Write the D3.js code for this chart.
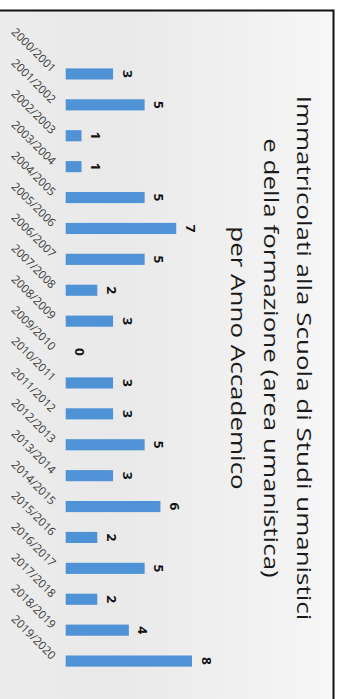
<!DOCTYPE html>
<html>
<head>
<meta charset="utf-8">
<script src="https://cdn.jsdelivr.net/npm/d3@7"></script>
<style>
  html, body { margin: 0; padding: 0; background: #ffffff; }
  svg { display: block; }
</style>
</head>
<body>
<div id="chart"></div>
<script>
const categories = ["2000/2001","2001/2002","2002/2003","2003/2004","2004/2005","2005/2006","2006/2007","2007/2008","2008/2009","2009/2010","2010/2011","2011/2012","2012/2013","2013/2014","2014/2015","2015/2016","2016/2017","2017/2018","2018/2019","2019/2020"];
const values = [3,5,1,1,5,7,5,2,3,0,3,3,5,3,6,2,5,2,4,8];
const titleLines = ["Immatricolati alla Scuola di Studi umanistici","e della formazione (area umanistica)","per Anno Accademico"];

const W = 342, H = 699;
const svg = d3.select("#chart").append("svg").attr("width", W).attr("height", H);

const defs = svg.append("defs");
const grad = defs.append("linearGradient").attr("id","bg").attr("x1","0").attr("y1","0").attr("x2","1").attr("y2","0");
grad.append("stop").attr("offset","0%").attr("stop-color","#ececec");
grad.append("stop").attr("offset","35%").attr("stop-color","#e9e9e9");
grad.append("stop").attr("offset","75%").attr("stop-color","#f1f1f1");
grad.append("stop").attr("offset","100%").attr("stop-color","#f7f7f7");

// frame (right and top edges visible)
svg.append("rect").attr("x", -4).attr("y", 10.5).attr("width", 337.5).attr("height", H)
  .attr("fill", "url(#bg)").attr("stroke", "#111").attr("stroke-width", 2);

// scales (chart drawn in rotated orientation)
const x = d3.scaleLinear().domain([0, 8]).range([65.7, 192]);
const y = d3.scaleBand().domain(categories).range([58.5, 676.5]).paddingInner(0.64).paddingOuter(0.32);

const g = svg.append("g");

g.selectAll("rect.bar").data(values).join("rect")
  .attr("class","bar")
  .attr("x", x(0))
  .attr("y", (d,i) => y(categories[i]))
  .attr("width", d => x(d) - x(0))
  .attr("height", y.bandwidth())
  .attr("fill", "#4f92d6");

// value labels, rotated
g.selectAll("text.val").data(values).join("text")
  .attr("class","val")
  .attr("transform", (d,i) => `translate(${x(d) + 9.5},${y(categories[i]) + y.bandwidth()/2}) scale(1,1.15) rotate(90)`)
  .attr("text-anchor","middle")
  .attr("font-family","'Open Sans', 'DejaVu Sans', sans-serif")
  .attr("font-weight","bold")
  .attr("font-size", 12)
  .attr("fill","#111")
  .text(d => d);

// category axis labels at 45deg
const axisG = g.append("g").attr("transform", `translate(53,0)`);
const axis = d3.axisLeft(y).tickSize(0).tickPadding(0);
axisG.call(axis);
axisG.select(".domain").remove();
axisG.selectAll(".tick text")
  .attr("x", 0).attr("dy", 0)
  .attr("transform", "translate(-2,-1) rotate(45)")
  .attr("text-anchor","end")
  .attr("font-family","'Open Sans', 'DejaVu Sans', sans-serif")
  .attr("font-size", 11.5)
  .attr("fill","#3a3a3a");

// title, rotated (source image is stretched along the text direction)
const titleX = [297, 264, 231];
svg.selectAll("text.title").data(titleLines).join("text")
  .attr("class","title")
  .attr("transform", (d,i) => `translate(${titleX[i]},358) scale(1,1.25) rotate(90)`)
  .attr("text-anchor","middle")
  .attr("font-family","'Open Sans', 'DejaVu Sans', sans-serif")
  .attr("font-size", 20.8)
  .attr("fill","#1a1a1a")
  .text(d => d);
</script>
</body>
</html>
